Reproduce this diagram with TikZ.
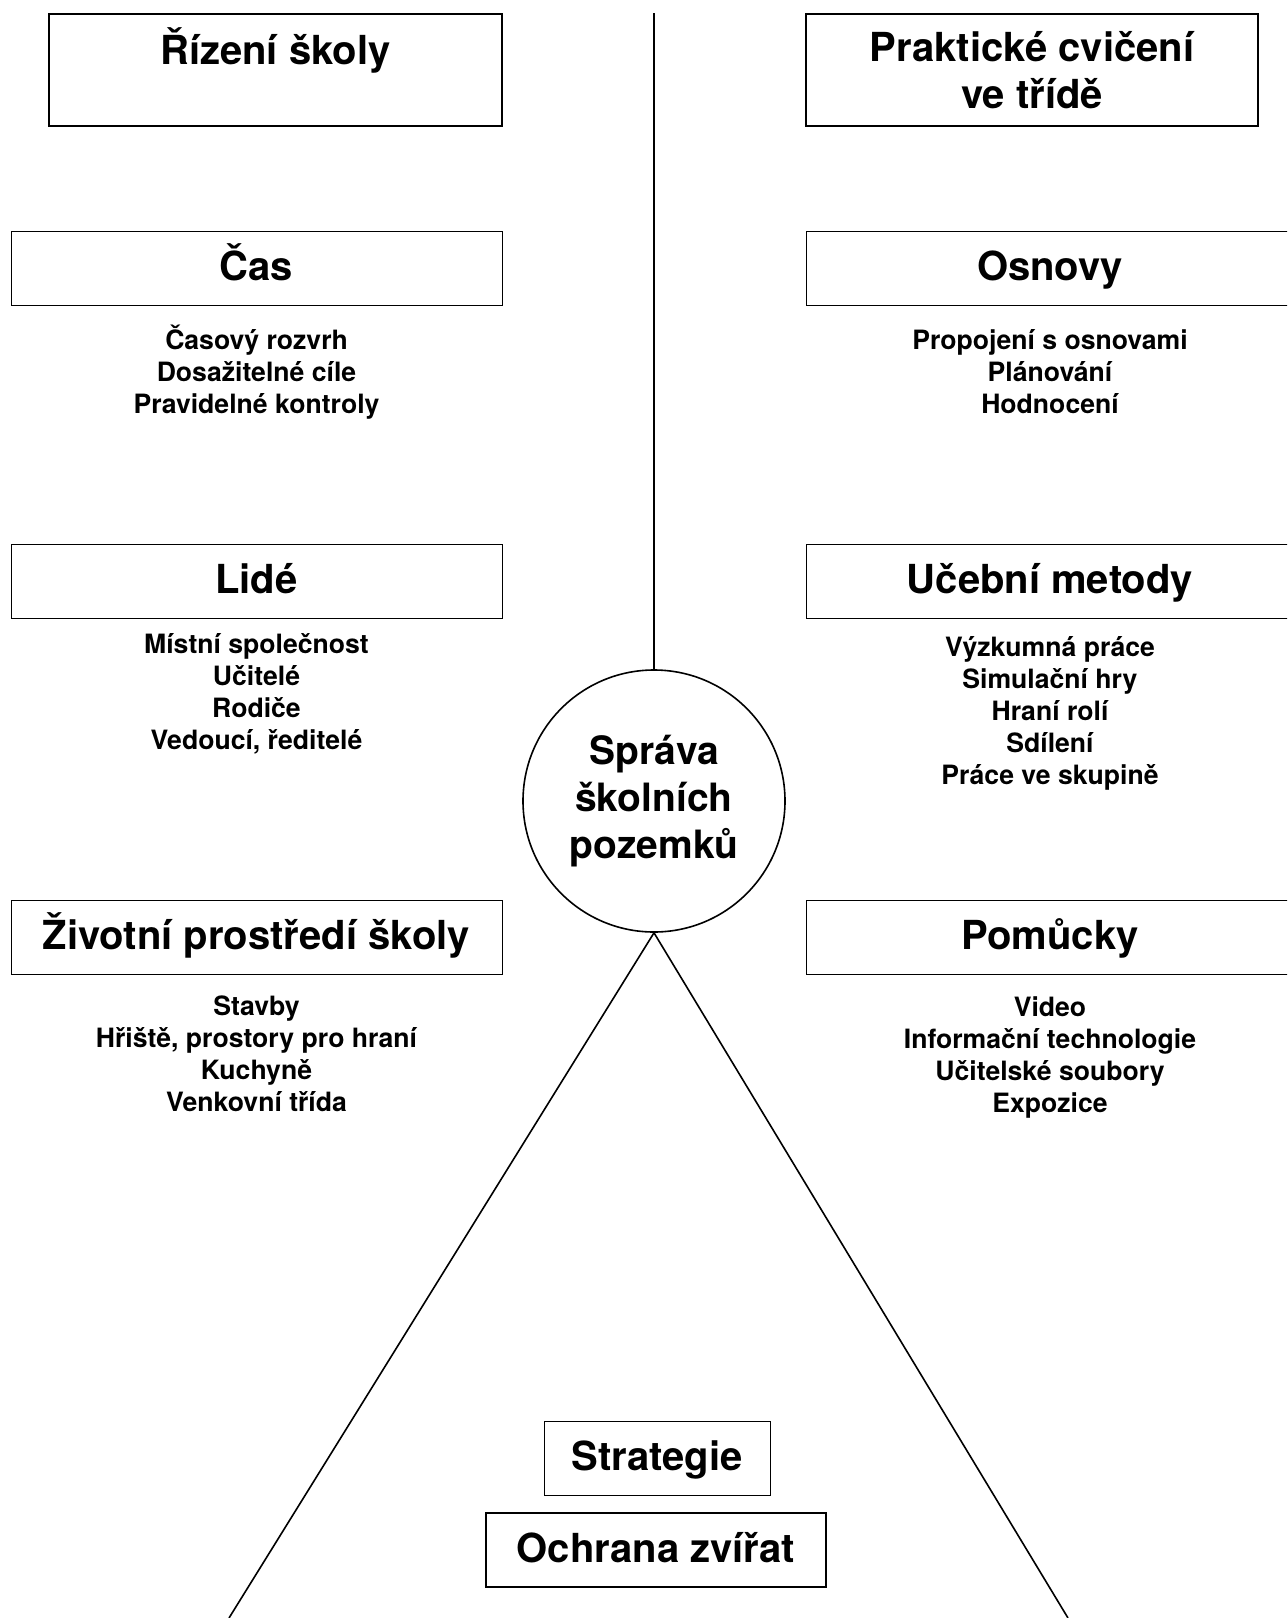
\documentclass[tikz,border=0pt]{standalone}
\usepackage{fontspec}
\setmainfont{TeX Gyre Heros}
\usepackage{tikz}
\usetikzlibrary{positioning, calc}
\tikzset{
    catbox/.style={rectangle, draw, line width=0.5pt, inner sep=0pt, minimum width=#1, minimum height=37pt, text height=14.4pt, text depth=2pt, font=\fontsize{20}{23.5}\selectfont\bfseries},
    headbox/.style={rectangle, draw, line width=1pt, inner sep=0pt, minimum width=#1, minimum height=56pt, align=center, font=\fontsize{20}{23.5}\selectfont\bfseries},
    itemlist/.style={align=center, inner sep=0pt, font=\fontsize{13.3}{16}\selectfont\bfseries},
    hub/.style={circle, draw, line width=0.8pt, inner sep=0pt, minimum size=131pt, align=center, font=\fontsize{19.5}{23.5}\selectfont\bfseries},
    link/.style={line width=0.8pt}
}
\begin{document}
\begin{tikzpicture}[x=0.5pt, y=-0.5pt]
            \useasboundingbox (0,0) rectangle (1287,1618);
            \clip (0,0) rectangle (1287,1618);

            % Headings
            \node (rizeni) [headbox=226.5pt] at (275.5, 70) {Řízení školy\\\mbox{}};
            \node (prakticke) [headbox=226pt] at (1032, 70) {Praktické cvičení\\ve třídě};

            % Centre
            \node (sprava) [hub] at (654, 801) {Správa\\školních\\pozemků};

            % Left column
            \node (cas) [catbox=245.5pt] at (256.5, 268.5) {Čas};
            \node (casitems) [itemlist] at (256.5, 372) {Časový rozvrh\\Dosažitelné cíle\\Pravidelné kontroly};

            \node (lide) [catbox=245.5pt] at (256.5, 581) {Lidé};
            \node (lideitems) [itemlist] at (256.5, 694) {Místní společnost\\Učitelé\\Rodiče\\Vedoucí, ředitelé};

            \node (prostredi) [catbox=245.5pt] at (256.5, 937.5) {Životní prostředí školy};
            \node (prostrediitems) [itemlist] at (256.5, 1054) {Stavby\\Hřiště, prostory pro hraní\\Kuchyně\\Venkovní třída};

            % Right column
            \node (osnovy) [catbox=244pt] at (1050, 268.5) {Osnovy};
            \node (osnovyitems) [itemlist] at (1050, 371.5) {Propojení s osnovami\\Plánování\\Hodnocení};

            \node (metody) [catbox=244pt] at (1050, 581) {Učební metody};
            \node (metodyitems) [itemlist] at (1050, 713) {Výzkumná práce\\Simulační hry\\Hraní rolí\\Sdílení\\Práce ve skupině};

            \node (pomucky) [catbox=244pt] at (1050, 937.5) {Pomůcky};
            \node (pomuckyitems) [itemlist] at (1050, 1057) {Video\\Informační technologie\\Učitelské soubory\\Expozice};

            % Bottom
            \node (strategie) [catbox=113pt] at (657, 1458) {Strategie};
            \node (ochrana) [catbox=170pt, line width=1pt] at (656, 1550) {Ochrana zvířat};

            % Connections
            \coordinate (top) at (654, 13);
            \coordinate (leftfoot) at (229, 1618);
            \coordinate (rightfoot) at (1068, 1618);
            \draw [link] (top) -- (sprava.north);
            \draw [link] (leftfoot) -- (sprava.south) -- (rightfoot);
\end{tikzpicture}
\end{document}
